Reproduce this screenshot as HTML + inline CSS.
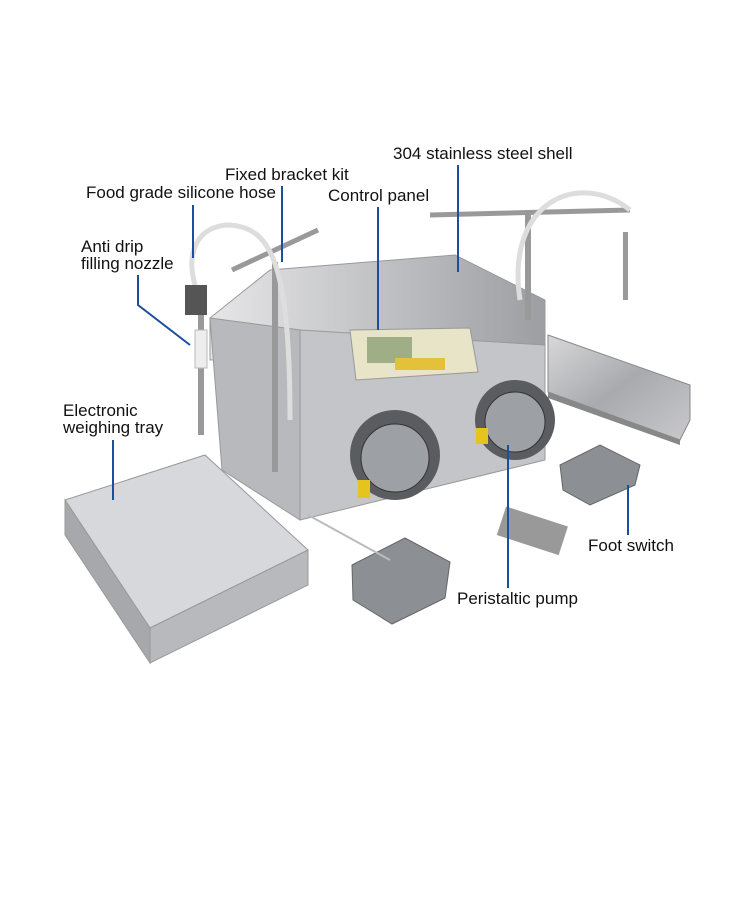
<!DOCTYPE html>
<html><head><meta charset="utf-8"><style>
html,body{margin:0;padding:0;background:#fff;}
svg{display:block}
text{font-family:"Liberation Sans",sans-serif;font-size:17px;fill:#111}
</style></head><body>
<svg width="750" height="900" viewBox="0 0 750 900" xmlns="http://www.w3.org/2000/svg">
<defs>
<linearGradient id="steel" x1="0" y1="0" x2="1" y2="1">
<stop offset="0" stop-color="#d8d8da"/><stop offset="0.5" stop-color="#a9aaae"/><stop offset="1" stop-color="#c9c9cc"/></linearGradient>
<linearGradient id="steel2" x1="0" y1="0" x2="1" y2="0">
<stop offset="0" stop-color="#e6e6e8"/><stop offset="1" stop-color="#9d9ea2"/></linearGradient>
</defs>
<polygon points="548,335 690,385 690,420 680,440 548,392" fill="url(#steel)" stroke="#888"/>
<polygon points="548,392 680,440 680,445 548,398" fill="#888"/>
<polygon points="210,318 270,270 455,255 545,300 545,345 210,360" fill="url(#steel2)" stroke="#999"/>
<polygon points="210,318 300,330 300,520 222,470" fill="#b8b9bc" stroke="#999"/>
<polygon points="300,330 545,345 545,460 300,520" fill="#c4c5c8" stroke="#999"/>
<polygon points="350,330 470,328 478,372 356,380" fill="#e8e4c8" stroke="#999"/>
<rect x="367" y="337" width="45" height="26" fill="#9fae86"/>
<rect x="395" y="358" width="50" height="12" fill="#e3c23a"/>
<circle cx="395" cy="455" r="45" fill="#5a5c60"/>
<circle cx="395" cy="458" r="34" fill="#9da0a4" stroke="#333"/>
<circle cx="515" cy="420" r="40" fill="#5a5c60"/>
<circle cx="515" cy="422" r="30" fill="#9da0a4" stroke="#333"/>
<rect x="358" y="480" width="12" height="18" fill="#e6c420"/>
<rect x="476" y="428" width="12" height="16" fill="#e6c420"/>
<rect x="198" y="300" width="6" height="135" fill="#999"/>
<rect x="272" y="262" width="6" height="210" fill="#999"/>
<line x1="232" y1="270" x2="318" y2="230" stroke="#999" stroke-width="5"/>
<rect x="525" y="210" width="6" height="110" fill="#999"/>
<line x1="430" y1="215" x2="630" y2="210" stroke="#999" stroke-width="5"/>
<rect x="623" y="232" width="5" height="68" fill="#999"/>
<path d="M200,300 C180,250 200,225 230,225 C270,228 290,260 290,420" fill="none" stroke="#ddd" stroke-width="5"/>
<path d="M520,300 C505,200 580,170 630,210" fill="none" stroke="#ddd" stroke-width="5"/>
<rect x="185" y="285" width="22" height="30" fill="#555"/>
<rect x="195" y="330" width="12" height="38" fill="#eee" stroke="#bbb"/>
<polygon points="65,500 205,455 308,550 150,628" fill="#d7d8db" stroke="#999"/>
<polygon points="65,500 150,628 150,663 65,535" fill="#a7a8ac" stroke="#999"/>
<polygon points="150,628 308,550 308,585 150,663" fill="#b8b9bc" stroke="#999"/>
<polygon points="352,565 405,538 450,562 445,598 392,624 353,600" fill="#8c8f93" stroke="#666"/>
<polygon points="560,465 600,445 640,465 635,485 590,505 563,490" fill="#8c8f93" stroke="#666"/>
<rect x="500" y="515" width="65" height="30" fill="#999" transform="rotate(18 530 530)"/>
<line x1="308" y1="515" x2="390" y2="560" stroke="#bbb" stroke-width="2"/>
<g stroke="#1a4fa0" stroke-width="2" fill="none">
<line x1="458" y1="165" x2="458" y2="272"/>
<line x1="282" y1="186" x2="282" y2="262"/>
<line x1="193" y1="205" x2="193" y2="258"/>
<line x1="378" y1="207" x2="378" y2="330"/>
<polyline points="138,275 138,305 190,345"/>
<line x1="113" y1="440" x2="113" y2="500"/>
<line x1="628" y1="485" x2="628" y2="535"/>
<line x1="508" y1="445" x2="508" y2="588"/>
</g>
<text x="393" y="159">304 stainless steel shell</text>
<text x="225" y="180">Fixed bracket kit</text>
<text x="86" y="198">Food grade silicone hose</text>
<text x="328" y="201">Control panel</text>
<text x="81" y="252">Anti drip</text>
<text x="81" y="269">filling nozzle</text>
<text x="63" y="416">Electronic</text>
<text x="63" y="433">weighing tray</text>
<text x="588" y="551">Foot switch</text>
<text x="457" y="604">Peristaltic pump</text>
</svg>
</body></html>
